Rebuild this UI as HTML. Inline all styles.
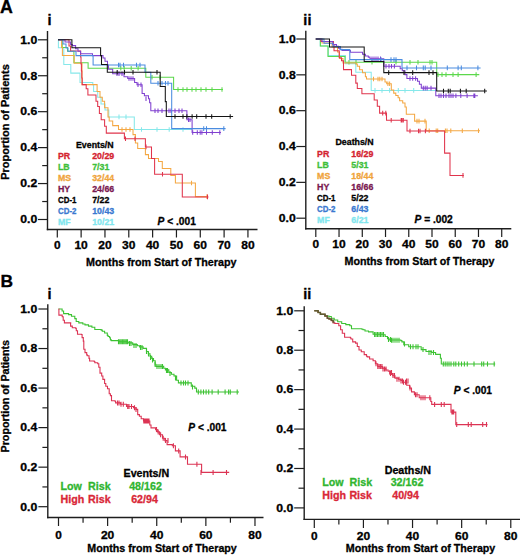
<!DOCTYPE html>
<html><head><meta charset="utf-8"><style>html,body{margin:0;padding:0;background:#fff;}svg{display:block;}</style></head><body><svg width="520" height="556" viewBox="0 0 520 556" font-family='"Liberation Sans", sans-serif'>
<rect width="520" height="556" fill="#fff"/>
<line x1="47.5" y1="31" x2="47.5" y2="230.2" stroke="#1e1e1e" stroke-width="1.4"/>
<line x1="46.8" y1="229.5" x2="257.5" y2="229.5" stroke="#1e1e1e" stroke-width="1.4"/>
<line x1="38" y1="219.5" x2="47.5" y2="219.5" stroke="#1e1e1e" stroke-width="1.2"/>
<text x="37.3" y="223.3" font-size="10.6" font-weight="bold" fill="#000" stroke="#000" stroke-width="0.3" text-anchor="end" textLength="17.0" lengthAdjust="spacingAndGlyphs">0.0</text>
<line x1="42.2" y1="201.53" x2="47.5" y2="201.53" stroke="#1e1e1e" stroke-width="1.2"/>
<line x1="38" y1="183.56" x2="47.5" y2="183.56" stroke="#1e1e1e" stroke-width="1.2"/>
<text x="37.3" y="187.36" font-size="10.6" font-weight="bold" fill="#000" stroke="#000" stroke-width="0.3" text-anchor="end" textLength="17.0" lengthAdjust="spacingAndGlyphs">0.2</text>
<line x1="42.2" y1="165.59" x2="47.5" y2="165.59" stroke="#1e1e1e" stroke-width="1.2"/>
<line x1="38" y1="147.62" x2="47.5" y2="147.62" stroke="#1e1e1e" stroke-width="1.2"/>
<text x="37.3" y="151.42" font-size="10.6" font-weight="bold" fill="#000" stroke="#000" stroke-width="0.3" text-anchor="end" textLength="17.0" lengthAdjust="spacingAndGlyphs">0.4</text>
<line x1="42.2" y1="129.65" x2="47.5" y2="129.65" stroke="#1e1e1e" stroke-width="1.2"/>
<line x1="38" y1="111.68" x2="47.5" y2="111.68" stroke="#1e1e1e" stroke-width="1.2"/>
<text x="37.3" y="115.48" font-size="10.6" font-weight="bold" fill="#000" stroke="#000" stroke-width="0.3" text-anchor="end" textLength="17.0" lengthAdjust="spacingAndGlyphs">0.6</text>
<line x1="42.2" y1="93.71" x2="47.5" y2="93.71" stroke="#1e1e1e" stroke-width="1.2"/>
<line x1="38" y1="75.74" x2="47.5" y2="75.74" stroke="#1e1e1e" stroke-width="1.2"/>
<text x="37.3" y="79.54" font-size="10.6" font-weight="bold" fill="#000" stroke="#000" stroke-width="0.3" text-anchor="end" textLength="17.0" lengthAdjust="spacingAndGlyphs">0.8</text>
<line x1="42.2" y1="57.77" x2="47.5" y2="57.77" stroke="#1e1e1e" stroke-width="1.2"/>
<line x1="38" y1="39.8" x2="47.5" y2="39.8" stroke="#1e1e1e" stroke-width="1.2"/>
<text x="37.3" y="43.6" font-size="10.6" font-weight="bold" fill="#000" stroke="#000" stroke-width="0.3" text-anchor="end" textLength="17.0" lengthAdjust="spacingAndGlyphs">1.0</text>
<line x1="57.3" y1="229.5" x2="57.3" y2="237.5" stroke="#1e1e1e" stroke-width="1.2"/>
<text x="57.3" y="248.6" font-size="10.6" font-weight="bold" fill="#000" stroke="#000" stroke-width="0.3" text-anchor="middle" textLength="6.6" lengthAdjust="spacingAndGlyphs">0</text>
<line x1="81.13" y1="229.5" x2="81.13" y2="237.5" stroke="#1e1e1e" stroke-width="1.2"/>
<text x="81.13" y="248.6" font-size="10.6" font-weight="bold" fill="#000" stroke="#000" stroke-width="0.3" text-anchor="middle" textLength="13.4" lengthAdjust="spacingAndGlyphs">10</text>
<line x1="104.96" y1="229.5" x2="104.96" y2="237.5" stroke="#1e1e1e" stroke-width="1.2"/>
<text x="104.96" y="248.6" font-size="10.6" font-weight="bold" fill="#000" stroke="#000" stroke-width="0.3" text-anchor="middle" textLength="13.4" lengthAdjust="spacingAndGlyphs">20</text>
<line x1="128.79" y1="229.5" x2="128.79" y2="237.5" stroke="#1e1e1e" stroke-width="1.2"/>
<text x="128.79" y="248.6" font-size="10.6" font-weight="bold" fill="#000" stroke="#000" stroke-width="0.3" text-anchor="middle" textLength="13.4" lengthAdjust="spacingAndGlyphs">30</text>
<line x1="152.62" y1="229.5" x2="152.62" y2="237.5" stroke="#1e1e1e" stroke-width="1.2"/>
<text x="152.62" y="248.6" font-size="10.6" font-weight="bold" fill="#000" stroke="#000" stroke-width="0.3" text-anchor="middle" textLength="13.4" lengthAdjust="spacingAndGlyphs">40</text>
<line x1="176.45" y1="229.5" x2="176.45" y2="237.5" stroke="#1e1e1e" stroke-width="1.2"/>
<text x="176.45" y="248.6" font-size="10.6" font-weight="bold" fill="#000" stroke="#000" stroke-width="0.3" text-anchor="middle" textLength="13.4" lengthAdjust="spacingAndGlyphs">50</text>
<line x1="200.28" y1="229.5" x2="200.28" y2="237.5" stroke="#1e1e1e" stroke-width="1.2"/>
<text x="200.28" y="248.6" font-size="10.6" font-weight="bold" fill="#000" stroke="#000" stroke-width="0.3" text-anchor="middle" textLength="13.4" lengthAdjust="spacingAndGlyphs">60</text>
<line x1="224.11" y1="229.5" x2="224.11" y2="237.5" stroke="#1e1e1e" stroke-width="1.2"/>
<text x="224.11" y="248.6" font-size="10.6" font-weight="bold" fill="#000" stroke="#000" stroke-width="0.3" text-anchor="middle" textLength="13.4" lengthAdjust="spacingAndGlyphs">70</text>
<line x1="247.94" y1="229.5" x2="247.94" y2="237.5" stroke="#1e1e1e" stroke-width="1.2"/>
<text x="247.94" y="248.6" font-size="10.6" font-weight="bold" fill="#000" stroke="#000" stroke-width="0.3" text-anchor="middle" textLength="13.4" lengthAdjust="spacingAndGlyphs">80</text>
<text x="86.0" y="265.9" font-size="10.7" font-weight="bold" fill="#000" stroke="#000" stroke-width="0.3" textLength="150.5" lengthAdjust="spacingAndGlyphs">Months from Start of Therapy</text>
<text x="9.4" y="122.0" font-size="10.7" font-weight="bold" fill="#000" stroke="#000" stroke-width="0.3" text-anchor="middle" textLength="115.5" lengthAdjust="spacingAndGlyphs" transform="rotate(-90 9.4 122.0)">Proportion of Patients</text>
<line x1="305.8" y1="30.7" x2="305.8" y2="229.39999999999998" stroke="#1e1e1e" stroke-width="1.4"/>
<line x1="305.1" y1="228.7" x2="511.3" y2="228.7" stroke="#1e1e1e" stroke-width="1.4"/>
<line x1="296.3" y1="218.2" x2="305.8" y2="218.2" stroke="#1e1e1e" stroke-width="1.2"/>
<text x="295.7" y="222.0" font-size="10.6" font-weight="bold" fill="#000" stroke="#000" stroke-width="0.3" text-anchor="end" textLength="17.0" lengthAdjust="spacingAndGlyphs">0.0</text>
<line x1="296.3" y1="182.36" x2="305.8" y2="182.36" stroke="#1e1e1e" stroke-width="1.2"/>
<text x="295.7" y="186.16" font-size="10.6" font-weight="bold" fill="#000" stroke="#000" stroke-width="0.3" text-anchor="end" textLength="17.0" lengthAdjust="spacingAndGlyphs">0.2</text>
<line x1="296.3" y1="146.52" x2="305.8" y2="146.52" stroke="#1e1e1e" stroke-width="1.2"/>
<text x="295.7" y="150.32" font-size="10.6" font-weight="bold" fill="#000" stroke="#000" stroke-width="0.3" text-anchor="end" textLength="17.0" lengthAdjust="spacingAndGlyphs">0.4</text>
<line x1="296.3" y1="110.68" x2="305.8" y2="110.68" stroke="#1e1e1e" stroke-width="1.2"/>
<text x="295.7" y="114.48" font-size="10.6" font-weight="bold" fill="#000" stroke="#000" stroke-width="0.3" text-anchor="end" textLength="17.0" lengthAdjust="spacingAndGlyphs">0.6</text>
<line x1="296.3" y1="74.84" x2="305.8" y2="74.84" stroke="#1e1e1e" stroke-width="1.2"/>
<text x="295.7" y="78.64" font-size="10.6" font-weight="bold" fill="#000" stroke="#000" stroke-width="0.3" text-anchor="end" textLength="17.0" lengthAdjust="spacingAndGlyphs">0.8</text>
<line x1="296.3" y1="39.0" x2="305.8" y2="39.0" stroke="#1e1e1e" stroke-width="1.2"/>
<text x="295.7" y="42.8" font-size="10.6" font-weight="bold" fill="#000" stroke="#000" stroke-width="0.3" text-anchor="end" textLength="17.0" lengthAdjust="spacingAndGlyphs">1.0</text>
<line x1="315.8" y1="228.7" x2="315.8" y2="237.0" stroke="#1e1e1e" stroke-width="1.2"/>
<text x="315.8" y="247.8" font-size="10.6" font-weight="bold" fill="#000" stroke="#000" stroke-width="0.3" text-anchor="middle" textLength="6.6" lengthAdjust="spacingAndGlyphs">0</text>
<line x1="339.04" y1="228.7" x2="339.04" y2="237.0" stroke="#1e1e1e" stroke-width="1.2"/>
<text x="339.04" y="247.8" font-size="10.6" font-weight="bold" fill="#000" stroke="#000" stroke-width="0.3" text-anchor="middle" textLength="13.4" lengthAdjust="spacingAndGlyphs">10</text>
<line x1="362.28" y1="228.7" x2="362.28" y2="237.0" stroke="#1e1e1e" stroke-width="1.2"/>
<text x="362.28" y="247.8" font-size="10.6" font-weight="bold" fill="#000" stroke="#000" stroke-width="0.3" text-anchor="middle" textLength="13.4" lengthAdjust="spacingAndGlyphs">20</text>
<line x1="385.52" y1="228.7" x2="385.52" y2="237.0" stroke="#1e1e1e" stroke-width="1.2"/>
<text x="385.52" y="247.8" font-size="10.6" font-weight="bold" fill="#000" stroke="#000" stroke-width="0.3" text-anchor="middle" textLength="13.4" lengthAdjust="spacingAndGlyphs">30</text>
<line x1="408.76" y1="228.7" x2="408.76" y2="237.0" stroke="#1e1e1e" stroke-width="1.2"/>
<text x="408.76" y="247.8" font-size="10.6" font-weight="bold" fill="#000" stroke="#000" stroke-width="0.3" text-anchor="middle" textLength="13.4" lengthAdjust="spacingAndGlyphs">40</text>
<line x1="432.0" y1="228.7" x2="432.0" y2="237.0" stroke="#1e1e1e" stroke-width="1.2"/>
<text x="432.0" y="247.8" font-size="10.6" font-weight="bold" fill="#000" stroke="#000" stroke-width="0.3" text-anchor="middle" textLength="13.4" lengthAdjust="spacingAndGlyphs">50</text>
<line x1="455.24" y1="228.7" x2="455.24" y2="237.0" stroke="#1e1e1e" stroke-width="1.2"/>
<text x="455.24" y="247.8" font-size="10.6" font-weight="bold" fill="#000" stroke="#000" stroke-width="0.3" text-anchor="middle" textLength="13.4" lengthAdjust="spacingAndGlyphs">60</text>
<line x1="478.48" y1="228.7" x2="478.48" y2="237.0" stroke="#1e1e1e" stroke-width="1.2"/>
<text x="478.48" y="247.8" font-size="10.6" font-weight="bold" fill="#000" stroke="#000" stroke-width="0.3" text-anchor="middle" textLength="13.4" lengthAdjust="spacingAndGlyphs">70</text>
<line x1="501.72" y1="228.7" x2="501.72" y2="237.0" stroke="#1e1e1e" stroke-width="1.2"/>
<text x="501.72" y="247.8" font-size="10.6" font-weight="bold" fill="#000" stroke="#000" stroke-width="0.3" text-anchor="middle" textLength="13.4" lengthAdjust="spacingAndGlyphs">80</text>
<text x="344.5" y="265.3" font-size="10.7" font-weight="bold" fill="#000" stroke="#000" stroke-width="0.3" textLength="150.0" lengthAdjust="spacingAndGlyphs">Months from Start of Therapy</text>
<line x1="47.8" y1="304.3" x2="47.8" y2="518.2" stroke="#1e1e1e" stroke-width="1.4"/>
<line x1="47.099999999999994" y1="517.5" x2="263.5" y2="517.5" stroke="#1e1e1e" stroke-width="1.4"/>
<line x1="38.4" y1="506.7" x2="47.8" y2="506.7" stroke="#1e1e1e" stroke-width="1.2"/>
<text x="37.2" y="510.5" font-size="10.6" font-weight="bold" fill="#000" stroke="#000" stroke-width="0.3" text-anchor="end" textLength="17.0" lengthAdjust="spacingAndGlyphs">0.0</text>
<line x1="42.4" y1="486.93" x2="47.8" y2="486.93" stroke="#1e1e1e" stroke-width="1.2"/>
<line x1="38.4" y1="467.16" x2="47.8" y2="467.16" stroke="#1e1e1e" stroke-width="1.2"/>
<text x="37.2" y="470.96" font-size="10.6" font-weight="bold" fill="#000" stroke="#000" stroke-width="0.3" text-anchor="end" textLength="17.0" lengthAdjust="spacingAndGlyphs">0.2</text>
<line x1="42.4" y1="447.39" x2="47.8" y2="447.39" stroke="#1e1e1e" stroke-width="1.2"/>
<line x1="38.4" y1="427.62" x2="47.8" y2="427.62" stroke="#1e1e1e" stroke-width="1.2"/>
<text x="37.2" y="431.42" font-size="10.6" font-weight="bold" fill="#000" stroke="#000" stroke-width="0.3" text-anchor="end" textLength="17.0" lengthAdjust="spacingAndGlyphs">0.4</text>
<line x1="42.4" y1="407.85" x2="47.8" y2="407.85" stroke="#1e1e1e" stroke-width="1.2"/>
<line x1="38.4" y1="388.08" x2="47.8" y2="388.08" stroke="#1e1e1e" stroke-width="1.2"/>
<text x="37.2" y="391.88" font-size="10.6" font-weight="bold" fill="#000" stroke="#000" stroke-width="0.3" text-anchor="end" textLength="17.0" lengthAdjust="spacingAndGlyphs">0.6</text>
<line x1="42.4" y1="368.31" x2="47.8" y2="368.31" stroke="#1e1e1e" stroke-width="1.2"/>
<line x1="38.4" y1="348.54" x2="47.8" y2="348.54" stroke="#1e1e1e" stroke-width="1.2"/>
<text x="37.2" y="352.34" font-size="10.6" font-weight="bold" fill="#000" stroke="#000" stroke-width="0.3" text-anchor="end" textLength="17.0" lengthAdjust="spacingAndGlyphs">0.8</text>
<line x1="42.4" y1="328.77" x2="47.8" y2="328.77" stroke="#1e1e1e" stroke-width="1.2"/>
<line x1="38.4" y1="309.0" x2="47.8" y2="309.0" stroke="#1e1e1e" stroke-width="1.2"/>
<text x="37.2" y="312.8" font-size="10.6" font-weight="bold" fill="#000" stroke="#000" stroke-width="0.3" text-anchor="end" textLength="17.0" lengthAdjust="spacingAndGlyphs">1.0</text>
<line x1="58.5" y1="517.5" x2="58.5" y2="526.0" stroke="#1e1e1e" stroke-width="1.2"/>
<text x="58.5" y="538.6" font-size="10.6" font-weight="bold" fill="#000" stroke="#000" stroke-width="0.3" text-anchor="middle" textLength="6.6" lengthAdjust="spacingAndGlyphs">0</text>
<line x1="83.06" y1="517.5" x2="83.06" y2="522.7" stroke="#1e1e1e" stroke-width="1.2"/>
<line x1="107.62" y1="517.5" x2="107.62" y2="526.0" stroke="#1e1e1e" stroke-width="1.2"/>
<text x="107.62" y="538.6" font-size="10.6" font-weight="bold" fill="#000" stroke="#000" stroke-width="0.3" text-anchor="middle" textLength="13.4" lengthAdjust="spacingAndGlyphs">20</text>
<line x1="132.18" y1="517.5" x2="132.18" y2="522.7" stroke="#1e1e1e" stroke-width="1.2"/>
<line x1="156.74" y1="517.5" x2="156.74" y2="526.0" stroke="#1e1e1e" stroke-width="1.2"/>
<text x="156.74" y="538.6" font-size="10.6" font-weight="bold" fill="#000" stroke="#000" stroke-width="0.3" text-anchor="middle" textLength="13.4" lengthAdjust="spacingAndGlyphs">40</text>
<line x1="181.3" y1="517.5" x2="181.3" y2="522.7" stroke="#1e1e1e" stroke-width="1.2"/>
<line x1="205.86" y1="517.5" x2="205.86" y2="526.0" stroke="#1e1e1e" stroke-width="1.2"/>
<text x="205.86" y="538.6" font-size="10.6" font-weight="bold" fill="#000" stroke="#000" stroke-width="0.3" text-anchor="middle" textLength="13.4" lengthAdjust="spacingAndGlyphs">60</text>
<line x1="230.42" y1="517.5" x2="230.42" y2="522.7" stroke="#1e1e1e" stroke-width="1.2"/>
<line x1="254.98" y1="517.5" x2="254.98" y2="526.0" stroke="#1e1e1e" stroke-width="1.2"/>
<text x="254.98" y="538.6" font-size="10.6" font-weight="bold" fill="#000" stroke="#000" stroke-width="0.3" text-anchor="middle" textLength="13.4" lengthAdjust="spacingAndGlyphs">80</text>
<text x="87.3" y="552.3" font-size="10.7" font-weight="bold" fill="#000" stroke="#000" stroke-width="0.3" textLength="149.5" lengthAdjust="spacingAndGlyphs">Months from Start of Therapy</text>
<text x="9.4" y="396.2" font-size="10.7" font-weight="bold" fill="#000" stroke="#000" stroke-width="0.3" text-anchor="middle" textLength="112.5" lengthAdjust="spacingAndGlyphs" transform="rotate(-90 9.4 396.2)">Proportion of Patients</text>
<line x1="304.2" y1="306.2" x2="304.2" y2="520.1" stroke="#1e1e1e" stroke-width="1.4"/>
<line x1="303.5" y1="519.4" x2="520" y2="519.4" stroke="#1e1e1e" stroke-width="1.4"/>
<line x1="294.2" y1="507.9" x2="304.2" y2="507.9" stroke="#1e1e1e" stroke-width="1.2"/>
<text x="293.3" y="511.7" font-size="10.6" font-weight="bold" fill="#000" stroke="#000" stroke-width="0.3" text-anchor="end" textLength="17.0" lengthAdjust="spacingAndGlyphs">0.0</text>
<line x1="298.5" y1="488.19" x2="304.2" y2="488.19" stroke="#1e1e1e" stroke-width="1.2"/>
<line x1="294.2" y1="468.48" x2="304.2" y2="468.48" stroke="#1e1e1e" stroke-width="1.2"/>
<text x="293.3" y="472.28" font-size="10.6" font-weight="bold" fill="#000" stroke="#000" stroke-width="0.3" text-anchor="end" textLength="17.0" lengthAdjust="spacingAndGlyphs">0.2</text>
<line x1="298.5" y1="448.77" x2="304.2" y2="448.77" stroke="#1e1e1e" stroke-width="1.2"/>
<line x1="294.2" y1="429.06" x2="304.2" y2="429.06" stroke="#1e1e1e" stroke-width="1.2"/>
<text x="293.3" y="432.86" font-size="10.6" font-weight="bold" fill="#000" stroke="#000" stroke-width="0.3" text-anchor="end" textLength="17.0" lengthAdjust="spacingAndGlyphs">0.4</text>
<line x1="298.5" y1="409.35" x2="304.2" y2="409.35" stroke="#1e1e1e" stroke-width="1.2"/>
<line x1="294.2" y1="389.64" x2="304.2" y2="389.64" stroke="#1e1e1e" stroke-width="1.2"/>
<text x="293.3" y="393.44" font-size="10.6" font-weight="bold" fill="#000" stroke="#000" stroke-width="0.3" text-anchor="end" textLength="17.0" lengthAdjust="spacingAndGlyphs">0.6</text>
<line x1="298.5" y1="369.93" x2="304.2" y2="369.93" stroke="#1e1e1e" stroke-width="1.2"/>
<line x1="294.2" y1="350.22" x2="304.2" y2="350.22" stroke="#1e1e1e" stroke-width="1.2"/>
<text x="293.3" y="354.02" font-size="10.6" font-weight="bold" fill="#000" stroke="#000" stroke-width="0.3" text-anchor="end" textLength="17.0" lengthAdjust="spacingAndGlyphs">0.8</text>
<line x1="298.5" y1="330.51" x2="304.2" y2="330.51" stroke="#1e1e1e" stroke-width="1.2"/>
<line x1="294.2" y1="310.8" x2="304.2" y2="310.8" stroke="#1e1e1e" stroke-width="1.2"/>
<text x="293.3" y="314.6" font-size="10.6" font-weight="bold" fill="#000" stroke="#000" stroke-width="0.3" text-anchor="end" textLength="17.0" lengthAdjust="spacingAndGlyphs">1.0</text>
<line x1="314.3" y1="519.4" x2="314.3" y2="528.0" stroke="#1e1e1e" stroke-width="1.2"/>
<text x="314.3" y="540.3" font-size="10.6" font-weight="bold" fill="#000" stroke="#000" stroke-width="0.3" text-anchor="middle" textLength="6.6" lengthAdjust="spacingAndGlyphs">0</text>
<line x1="338.86" y1="519.4" x2="338.86" y2="524.5" stroke="#1e1e1e" stroke-width="1.2"/>
<line x1="363.42" y1="519.4" x2="363.42" y2="528.0" stroke="#1e1e1e" stroke-width="1.2"/>
<text x="363.42" y="540.3" font-size="10.6" font-weight="bold" fill="#000" stroke="#000" stroke-width="0.3" text-anchor="middle" textLength="13.4" lengthAdjust="spacingAndGlyphs">20</text>
<line x1="387.98" y1="519.4" x2="387.98" y2="524.5" stroke="#1e1e1e" stroke-width="1.2"/>
<line x1="412.54" y1="519.4" x2="412.54" y2="528.0" stroke="#1e1e1e" stroke-width="1.2"/>
<text x="412.54" y="540.3" font-size="10.6" font-weight="bold" fill="#000" stroke="#000" stroke-width="0.3" text-anchor="middle" textLength="13.4" lengthAdjust="spacingAndGlyphs">40</text>
<line x1="437.1" y1="519.4" x2="437.1" y2="524.5" stroke="#1e1e1e" stroke-width="1.2"/>
<line x1="461.66" y1="519.4" x2="461.66" y2="528.0" stroke="#1e1e1e" stroke-width="1.2"/>
<text x="461.66" y="540.3" font-size="10.6" font-weight="bold" fill="#000" stroke="#000" stroke-width="0.3" text-anchor="middle" textLength="13.4" lengthAdjust="spacingAndGlyphs">60</text>
<line x1="486.22" y1="519.4" x2="486.22" y2="524.5" stroke="#1e1e1e" stroke-width="1.2"/>
<line x1="510.78" y1="519.4" x2="510.78" y2="528.0" stroke="#1e1e1e" stroke-width="1.2"/>
<text x="510.78" y="540.3" font-size="10.6" font-weight="bold" fill="#000" stroke="#000" stroke-width="0.3" text-anchor="middle" textLength="13.4" lengthAdjust="spacingAndGlyphs">80</text>
<text x="345.8" y="552.3" font-size="10.7" font-weight="bold" fill="#000" stroke="#000" stroke-width="0.3" textLength="149.5" lengthAdjust="spacingAndGlyphs">Months from Start of Therapy</text>
<text x="0.0" y="12.6" font-size="17.8" font-weight="bold" fill="#000" stroke="#000" stroke-width="0.3">A</text>
<text x="0.4" y="287.3" font-size="17.4" font-weight="bold" fill="#000" stroke="#000" stroke-width="0.3">B</text>
<text x="49.5" y="24.7" font-size="14.5" font-weight="bold" fill="#000" stroke="#000" stroke-width="0.3" text-anchor="middle">i</text>
<text x="307.4" y="24.9" font-size="14.5" font-weight="bold" fill="#000" stroke="#000" stroke-width="0.3" text-anchor="middle">ii</text>
<text x="49.4" y="298.7" font-size="14.5" font-weight="bold" fill="#000" stroke="#000" stroke-width="0.3" text-anchor="middle">i</text>
<text x="307.2" y="298.5" font-size="14.5" font-weight="bold" fill="#000" stroke="#000" stroke-width="0.3" text-anchor="middle">ii</text>
<text x="76.0" y="148.0" font-size="8.8" font-weight="bold" fill="#000" stroke="#000" stroke-width="0.3">Events/N</text>
<text x="58.0" y="158.8" font-size="8.8" font-weight="bold" fill="#d4222f" stroke="#d4222f" stroke-width="0.3">PR</text>
<text x="92.2" y="158.8" font-size="8.8" font-weight="bold" fill="#d4222f" stroke="#d4222f" stroke-width="0.3">20/29</text>
<text x="58.0" y="169.78" font-size="8.8" font-weight="bold" fill="#3fbf3a" stroke="#3fbf3a" stroke-width="0.3">LB</text>
<text x="92.2" y="169.78" font-size="8.8" font-weight="bold" fill="#3fbf3a" stroke="#3fbf3a" stroke-width="0.3">7/31</text>
<text x="58.0" y="180.76000000000002" font-size="8.8" font-weight="bold" fill="#f0a43c" stroke="#f0a43c" stroke-width="0.3">MS</text>
<text x="92.2" y="180.76000000000002" font-size="8.8" font-weight="bold" fill="#f0a43c" stroke="#f0a43c" stroke-width="0.3">32/44</text>
<text x="58.0" y="191.74" font-size="8.8" font-weight="bold" fill="#7a1850" stroke="#7a1850" stroke-width="0.3">HY</text>
<text x="92.2" y="191.74" font-size="8.8" font-weight="bold" fill="#7a1850" stroke="#7a1850" stroke-width="0.3">24/66</text>
<text x="58.0" y="202.72000000000003" font-size="8.8" font-weight="bold" fill="#000" stroke="#000" stroke-width="0.3" textLength="18.4" lengthAdjust="spacingAndGlyphs">CD-1</text>
<text x="92.2" y="202.72000000000003" font-size="8.8" font-weight="bold" fill="#000" stroke="#000" stroke-width="0.3">7/22</text>
<text x="58.0" y="213.70000000000002" font-size="8.8" font-weight="bold" fill="#3a78d0" stroke="#3a78d0" stroke-width="0.3" textLength="18.4" lengthAdjust="spacingAndGlyphs">CD-2</text>
<text x="92.2" y="213.70000000000002" font-size="8.8" font-weight="bold" fill="#3a78d0" stroke="#3a78d0" stroke-width="0.3">10/43</text>
<text x="58.0" y="224.68" font-size="8.8" font-weight="bold" fill="#80e6ee" stroke="#80e6ee" stroke-width="0.3">MF</text>
<text x="92.2" y="224.68" font-size="8.8" font-weight="bold" fill="#80e6ee" stroke="#80e6ee" stroke-width="0.3">10/21</text>
<text x="335.5" y="145.3" font-size="8.8" font-weight="bold" fill="#000" stroke="#000" stroke-width="0.3">Deaths/N</text>
<text x="317.1" y="156.6" font-size="8.8" font-weight="bold" fill="#d4222f" stroke="#d4222f" stroke-width="0.3">PR</text>
<text x="351.3" y="156.6" font-size="8.8" font-weight="bold" fill="#d4222f" stroke="#d4222f" stroke-width="0.3">16/29</text>
<text x="317.1" y="167.67" font-size="8.8" font-weight="bold" fill="#3fbf3a" stroke="#3fbf3a" stroke-width="0.3">LB</text>
<text x="351.3" y="167.67" font-size="8.8" font-weight="bold" fill="#3fbf3a" stroke="#3fbf3a" stroke-width="0.3">5/31</text>
<text x="317.1" y="178.74" font-size="8.8" font-weight="bold" fill="#f0a43c" stroke="#f0a43c" stroke-width="0.3">MS</text>
<text x="351.3" y="178.74" font-size="8.8" font-weight="bold" fill="#f0a43c" stroke="#f0a43c" stroke-width="0.3">18/44</text>
<text x="317.1" y="189.81" font-size="8.8" font-weight="bold" fill="#7a1850" stroke="#7a1850" stroke-width="0.3">HY</text>
<text x="351.3" y="189.81" font-size="8.8" font-weight="bold" fill="#7a1850" stroke="#7a1850" stroke-width="0.3">16/66</text>
<text x="317.1" y="200.88" font-size="8.8" font-weight="bold" fill="#000" stroke="#000" stroke-width="0.3" textLength="18.4" lengthAdjust="spacingAndGlyphs">CD-1</text>
<text x="351.3" y="200.88" font-size="8.8" font-weight="bold" fill="#000" stroke="#000" stroke-width="0.3">5/22</text>
<text x="317.1" y="211.95" font-size="8.8" font-weight="bold" fill="#3a78d0" stroke="#3a78d0" stroke-width="0.3" textLength="18.4" lengthAdjust="spacingAndGlyphs">CD-2</text>
<text x="351.3" y="211.95" font-size="8.8" font-weight="bold" fill="#3a78d0" stroke="#3a78d0" stroke-width="0.3">6/43</text>
<text x="317.1" y="223.01999999999998" font-size="8.8" font-weight="bold" fill="#80e6ee" stroke="#80e6ee" stroke-width="0.3">MF</text>
<text x="351.3" y="223.01999999999998" font-size="8.8" font-weight="bold" fill="#80e6ee" stroke="#80e6ee" stroke-width="0.3">6/21</text>
<text x="123.5" y="477.3" font-size="10.7" font-weight="bold" fill="#000" stroke="#000" stroke-width="0.3">Events/N</text>
<text x="60.5" y="490.0" font-size="10.7" font-weight="bold" fill="#30b530" stroke="#30b530" stroke-width="0.3">Low</text>
<text x="88.0" y="490.0" font-size="10.7" font-weight="bold" fill="#30b530" stroke="#30b530" stroke-width="0.3">Risk</text>
<text x="60.5" y="502.7" font-size="10.7" font-weight="bold" fill="#d92838" stroke="#d92838" stroke-width="0.3">High</text>
<text x="88.0" y="502.7" font-size="10.7" font-weight="bold" fill="#d92838" stroke="#d92838" stroke-width="0.3">Risk</text>
<text x="145.5" y="490.0" font-size="10.7" font-weight="bold" fill="#30b530" stroke="#30b530" stroke-width="0.3" text-anchor="middle">48/162</text>
<text x="144.5" y="502.7" font-size="10.7" font-weight="bold" fill="#d92838" stroke="#d92838" stroke-width="0.3" text-anchor="middle">62/94</text>
<text x="384.7" y="473.5" font-size="10.7" font-weight="bold" fill="#000" stroke="#000" stroke-width="0.3">Deaths/N</text>
<text x="322.3" y="486.0" font-size="10.7" font-weight="bold" fill="#30b530" stroke="#30b530" stroke-width="0.3">Low</text>
<text x="349.6" y="486.0" font-size="10.7" font-weight="bold" fill="#30b530" stroke="#30b530" stroke-width="0.3">Risk</text>
<text x="322.3" y="498.6" font-size="10.7" font-weight="bold" fill="#d92838" stroke="#d92838" stroke-width="0.3">High</text>
<text x="349.4" y="498.6" font-size="10.7" font-weight="bold" fill="#d92838" stroke="#d92838" stroke-width="0.3">Risk</text>
<text x="407.0" y="486.2" font-size="10.7" font-weight="bold" fill="#30b530" stroke="#30b530" stroke-width="0.3" text-anchor="middle">32/162</text>
<text x="405.6" y="498.8" font-size="10.7" font-weight="bold" fill="#d92838" stroke="#d92838" stroke-width="0.3" text-anchor="middle">40/94</text>
<text x="157.6" y="225.2" font-size="10.2" font-weight="bold" stroke="#000" stroke-width="0.3"><tspan font-style="italic">P</tspan> &lt; .001</text>
<text x="414.5" y="222.8" font-size="10.2" font-weight="bold" stroke="#000" stroke-width="0.3"><tspan font-style="italic">P</tspan> = .002</text>
<text x="188.3" y="430.9" font-size="10.2" font-weight="bold" stroke="#000" stroke-width="0.3"><tspan font-style="italic">P</tspan> &lt; .001</text>
<text x="453.8" y="393.6" font-size="10.2" font-weight="bold" stroke="#000" stroke-width="0.3"><tspan font-style="italic">P</tspan> &lt; .001</text>
<path d="M58.0 39.8H58.4V47.8H63.6V47.8H63.8V64.4H70.6V64.4H70.8V73.1H80.0V82.5H92.8V84.6H93.6V91.5H97.7V97.3H101.0V104.0H105.0V110.0H108.8V116.9H134.3V129.5H192.0" fill="none" stroke="#86e8ea" stroke-width="1.05" stroke-linejoin="miter" stroke-linecap="butt"/><path d="M119.0 114.60000000000001V119.2M126.0 114.60000000000001V119.2M141.5 127.2V131.8M157.0 127.2V131.8M169.2 127.2V131.8M183.0 127.2V131.8" fill="none" stroke="#86e8ea" stroke-width="1.05"/>
<path d="M58.0 39.8H62.2V47.5H67.5V51.3H73.9V62.7H88.1V68.3H145.8V77.3H173.6V89.5H223.0" fill="none" stroke="#5cd84c" stroke-width="1.05" stroke-linejoin="miter" stroke-linecap="butt"/><path d="M120.8 66.0V70.6M124.2 66.0V70.6M131.2 66.0V70.6M138.1 66.0V70.6M152.0 75.0V79.6M160.0 75.0V79.6M178.0 87.2V91.8M183.0 87.2V91.8M187.0 87.2V91.8M192.0 87.2V91.8M196.0 87.2V91.8M201.0 87.2V91.8M206.0 87.2V91.8M212.0 87.2V91.8M222.0 87.2V91.8" fill="none" stroke="#5cd84c" stroke-width="1.05"/>
<path d="M58.0 39.8H61.6V47.5H62.4V55.5H74.2V63.2H82.0V84.6H97.1V91.5H100.0V97.3H102.3V101.3H104.6V107.7H108.0V116.9H109.2V121.0H112.7V125.6H118.5V129.5H133.0V134.6H135.4V143.0H137.7V148.5H145.4V154.6H148.5V158.5H158.5V161.5H162.3V168.5H170.8V175.4H175.4V183.0H195.4V196.6H207.7" fill="none" stroke="#f4a844" stroke-width="1.05" stroke-linejoin="miter" stroke-linecap="butt"/><path d="M122.0 127.2V131.8M126.0 127.2V131.8M130.0 127.2V131.8M191.5 180.7V185.3M207.0 194.29999999999998V198.9" fill="none" stroke="#f4a844" stroke-width="1.05"/>
<path d="M58.0 39.8H69.0V46.0H70.6V51.0H80.6V57.0H81.0V64.0H81.4V71.0H81.8V78.0H82.2V84.6H86.2V88.7H87.9V95.0H96.0V101.3H97.7V106.5H99.4V113.5H101.2V119.8H104.6V126.2H106.3V133.1H124.4V138.8H145.4V146.9H151.5V158.5H154.6V174.2H182.3V196.9H208.5" fill="none" stroke="#e0344c" stroke-width="1.05" stroke-linejoin="miter" stroke-linecap="butt"/><path d="M125.5 136.5V141.10000000000002M135.0 136.5V141.10000000000002M146.0 144.6V149.20000000000002M162.5 171.89999999999998V176.5M207.5 194.6V199.20000000000002" fill="none" stroke="#e0344c" stroke-width="1.05"/>
<path d="M58.0 39.8H65.0V41.9H70.6V44.4H72.5V45.6H75.6V48.75H78.0V51.25H80.6V53.75H92.5V55.6H103.0V58.0H105.0V61.25H107.5V65.0H108.5V69.2H112.7V73.8H124.0V76.7H127.7V78.5H134.6V82.5H137.0V84.8H142.1V93.5H144.4V95.8H148.5V98.7H149.6V102.7H150.8V110.8H186.9V119.8H192.1V132.5H221.0" fill="none" stroke="#8040d0" stroke-width="1.05" stroke-linejoin="miter" stroke-linecap="butt"/><path d="M117.0 71.5V76.1M119.0 71.5V76.1M122.0 71.5V76.1M129.0 76.2V80.8M131.0 76.2V80.8M133.0 76.2V80.8M138.0 82.5V87.1M141.0 82.5V87.1M146.0 96.4V101.0M155.0 108.5V113.1M158.0 108.5V113.1M162.0 108.5V113.1M169.0 108.5V113.1M171.0 108.5V113.1M175.0 108.5V113.1M179.0 108.5V113.1M182.0 108.5V113.1M188.5 117.5V122.1M190.0 117.5V122.1M192.7 130.2V134.8M197.3 130.2V134.8M200.2 130.2V134.8M201.9 130.2V134.8M206.5 130.2V134.8M212.3 130.2V134.8M219.8 130.2V134.8" fill="none" stroke="#8040d0" stroke-width="1.05"/>
<path d="M58.0 39.8H63.0V44.0H66.0V48.0H68.0V51.3H76.0V55.6H93.1V65.0H145.0V72.3H150.8V83.3H171.7V128.6H225.6" fill="none" stroke="#4a8ce0" stroke-width="1.05" stroke-linejoin="miter" stroke-linecap="butt"/><path d="M118.5 62.7V67.3M120.0 62.7V67.3M123.5 62.7V67.3M136.5 62.7V67.3M140.0 62.7V67.3M158.0 81.0V85.6M162.0 81.0V85.6M165.5 81.0V85.6M168.0 81.0V85.6M203.7 126.3V130.9M206.5 126.3V130.9M223.8 126.3V130.9" fill="none" stroke="#4a8ce0" stroke-width="1.05"/>
<path d="M58.0 39.8H71.9V47.8H100.6V55.6H101.5V64.4H107.3V72.3H160.2V86.5H165.3V101.6H166.3V116.5H233.1" fill="none" stroke="#141414" stroke-width="1.05" stroke-linejoin="miter" stroke-linecap="butt"/><path d="M117.2 70.0V74.6M124.5 70.0V74.6M133.0 70.0V74.6M157.0 70.0V74.6M175.0 114.2V118.8M183.0 114.2V118.8M186.9 114.2V118.8M192.1 114.2V118.8M196.7 114.2V118.8M206.0 114.2V118.8M211.7 114.2V118.8M230.2 114.2V118.8" fill="none" stroke="#141414" stroke-width="1.05"/>
<path d="M315.8 39.0H320.2V46.0H328.2V55.6H345.4V63.6H355.8V72.3H371.2V90.4H437.0" fill="none" stroke="#86e8ea" stroke-width="1.05" stroke-linejoin="miter" stroke-linecap="butt"/><path d="M382.0 88.10000000000001V92.7M389.6 88.10000000000001V92.7M375.0 88.10000000000001V92.7M398.3 88.10000000000001V92.7M405.0 88.10000000000001V92.7M413.7 88.10000000000001V92.7" fill="none" stroke="#86e8ea" stroke-width="1.05"/>
<path d="M315.8 39.0H320.4V46.0H328.0V56.4H345.0V62.2H436.7V74.6H479.3" fill="none" stroke="#5cd84c" stroke-width="1.05" stroke-linejoin="miter" stroke-linecap="butt"/><path d="M349.0 59.900000000000006V64.5M356.0 59.900000000000006V64.5M372.0 59.900000000000006V64.5M396.0 59.900000000000006V64.5M410.0 59.900000000000006V64.5M418.0 59.900000000000006V64.5M430.0 59.900000000000006V64.5M432.0 59.900000000000006V64.5M438.0 72.3V76.89999999999999M442.0 72.3V76.89999999999999M446.0 72.3V76.89999999999999M453.0 72.3V76.89999999999999M458.1 72.3V76.89999999999999M476.1 72.3V76.89999999999999" fill="none" stroke="#5cd84c" stroke-width="1.05"/>
<path d="M315.8 39.0H322.0V43.0H332.0V47.0H337.5V52.0H339.5V58.5H343.0V63.0H356.2V64.0H357.3V66.3H359.6V69.8H362.5V72.7H365.4V76.7H366.5V79.0H385.0V81.9H386.7V83.7H391.3V90.0H393.7V93.1H395.8V95.4H398.1V97.7H399.6V100.8H402.7V103.0H405.0V107.0H406.3V114.3H414.6V121.1H426.2V130.8H480.0" fill="none" stroke="#f4a844" stroke-width="1.05" stroke-linejoin="miter" stroke-linecap="butt"/><path d="M373.5 76.7V81.3M378.0 76.7V81.3M379.8 76.7V81.3M382.0 76.7V81.3M387.9 81.4V86.0M389.6 81.4V86.0M417.0 118.8V123.39999999999999M419.0 118.8V123.39999999999999M425.0 118.8V123.39999999999999M429.2 128.5V133.10000000000002M436.2 128.5V133.10000000000002M437.7 128.5V133.10000000000002M445.4 128.5V133.10000000000002M447.0 128.5V133.10000000000002M450.8 128.5V133.10000000000002M462.3 128.5V133.10000000000002M478.5 128.5V133.10000000000002" fill="none" stroke="#f4a844" stroke-width="1.05"/>
<path d="M315.8 39.0H321.0V41.5H333.5V44.6H334.0V50.8H339.2V57.7H341.5V60.8H343.5V69.6H351.5V75.2H355.8V83.1H357.3V88.5H361.9V93.8H374.2V100.0H377.3V106.2H379.6V113.1H386.5V120.3H407.0V131.0H444.6V153.1H450.0V175.4H463.8" fill="none" stroke="#e0344c" stroke-width="1.05" stroke-linejoin="miter" stroke-linecap="butt"/><path d="M382.7 110.8V115.39999999999999M385.8 110.8V115.39999999999999M391.2 118.0V122.6M401.2 118.0V122.6M402.0 118.0V122.6M403.3 118.0V122.6M410.0 128.7V133.3M418.5 128.7V133.3M420.0 128.7V133.3M425.4 128.7V133.3M463.0 173.1V177.70000000000002" fill="none" stroke="#e0344c" stroke-width="1.05"/>
<path d="M315.8 39.0H322.0V41.5H332.7V44.6H336.5V46.2H338.5V48.1H340.0V49.2H342.0V50.5H350.4V52.3H362.5V54.2H365.4V56.0H368.3V57.1H370.0V58.7H383.8V66.2H400.2V68.8H402.3V70.8H405.0V74.6H406.9V78.5H417.5V81.3H419.4V84.2H421.3V88.1H435.8V95.8H477.9" fill="none" stroke="#8040d0" stroke-width="1.05" stroke-linejoin="miter" stroke-linecap="butt"/><path d="M372.0 56.400000000000006V61.0M374.0 56.400000000000006V61.0M376.0 56.400000000000006V61.0M378.0 56.400000000000006V61.0M380.5 56.400000000000006V61.0M386.0 63.900000000000006V68.5M389.0 63.900000000000006V68.5M391.5 63.900000000000006V68.5M394.4 63.900000000000006V68.5M410.0 76.2V80.8M412.7 76.2V80.8M415.6 76.2V80.8M423.3 85.8V90.39999999999999M425.2 85.8V90.39999999999999M427.1 85.8V90.39999999999999M431.0 85.8V90.39999999999999M439.0 93.5V98.1M441.0 93.5V98.1M443.5 93.5V98.1M446.0 93.5V98.1M449.0 93.5V98.1M451.0 93.5V98.1M453.0 93.5V98.1M455.9 93.5V98.1M460.8 93.5V98.1M467.1 93.5V98.1M473.9 93.5V98.1M474.8 93.5V98.1" fill="none" stroke="#8040d0" stroke-width="1.05"/>
<path d="M315.8 39.0H324.0V43.2H333.0V46.5H340.4V49.6H349.8V59.6H402.0V67.9H480.6" fill="none" stroke="#4a8ce0" stroke-width="1.05" stroke-linejoin="miter" stroke-linecap="butt"/><path d="M381.0 57.300000000000004V61.9M391.0 57.300000000000004V61.9M394.0 57.300000000000004V61.9M396.0 57.300000000000004V61.9M407.0 65.60000000000001V70.2M416.5 65.60000000000001V70.2M423.3 65.60000000000001V70.2M425.2 65.60000000000001V70.2M431.0 65.60000000000001V70.2M447.3 65.60000000000001V70.2M458.1 65.60000000000001V70.2M461.3 65.60000000000001V70.2M477.9 65.60000000000001V70.2" fill="none" stroke="#4a8ce0" stroke-width="1.05"/>
<path d="M315.8 39.0H329.5V46.9H364.2V61.5H383.8V72.6H436.7V91.0H486.9" fill="none" stroke="#141414" stroke-width="1.05" stroke-linejoin="miter" stroke-linecap="butt"/><path d="M388.7 70.3V74.89999999999999M404.0 70.3V74.89999999999999M412.7 70.3V74.89999999999999M429.0 70.3V74.89999999999999M433.0 70.3V74.89999999999999M443.5 88.7V93.3M448.3 88.7V93.3M450.2 88.7V93.3M460.4 88.7V93.3M466.2 88.7V93.3M484.7 88.7V93.3" fill="none" stroke="#141414" stroke-width="1.05"/>
<path d="M58.5 309.0H62.1V311.0H63.6V313.6H68.6V314.6H71.5V316.2H74.8V318.6H76.2V321.5H78.8V322.9H82.8V324.0H85.0V324.9H88.5V326.1H91.9V327.2H94.8V329.5H101.2V330.1H102.3V331.3H104.6V333.0H107.3V335.4H108.1V336.5H109.6V337.7H110.4V339.9H111.3V340.6H118.8V341.7H128.0V342.9H132.7V344.6H137.3V345.8H139.6V346.9H143.1V348.4H146.5V351.5H148.3V353.8H150.0V356.2H151.7V358.5H153.5V360.8H155.2V364.2H155.8V366.4H163.7V368.2H165.4V369.9H168.8V372.5H171.4V374.2H174.0V376.0H176.6V380.3H178.4V382.9H191.3V386.3H194.8V388.1H196.5V392.0H239.0" fill="none" stroke="#3cc232" stroke-width="1.1" stroke-linejoin="miter" stroke-linecap="butt"/><path d="M118.5 339.2V344.2M119.8 339.2V344.2M121.1 339.2V344.2M122.4 339.2V344.2M123.7 339.2V344.2M125.0 339.2V344.2M126.3 339.2V344.2M127.5 339.2V344.2M129.5 341.0V346.0M131.0 341.0V346.0M134.0 343.0V348.0M136.0 343.0V348.0M140.5 345.0V350.0M142.0 345.0V350.0M146.5 349.0V354.0M148.5 351.5V356.5M150.5 355.0V360.0M152.5 357.5V362.5M155.0 361.7V366.7M157.0 363.9V368.9M159.0 363.9V368.9M161.0 363.9V368.9M162.5 363.9V368.9M166.5 368.0V373.0M167.5 368.0V373.0M170.0 371.0V376.0M175.5 375.5V380.5M181.0 380.4V385.4M183.5 380.4V385.4M185.5 380.4V385.4M188.0 380.4V385.4M192.5 384.5V389.5M198.3 389.5V394.5M200.9 389.5V394.5M203.5 389.5V394.5M206.1 389.5V394.5M208.7 389.5V394.5M212.1 389.5V394.5M218.2 389.5V394.5M225.1 389.5V394.5M228.6 389.5V394.5M230.3 389.5V394.5M237.2 389.5V394.5" fill="none" stroke="#3cc232" stroke-width="1.1"/>
<path d="M58.5 309.0H58.9V315.1H62.2V316.8H63.2V320.3H64.4V322.9H70.7V323.2H70.6V326.1H72.3V327.8H75.8V328.5H76.3V330.7H77.5V334.2H81.5V334.5H82.1V337.6H83.3V341.1H83.8V349.2H85.0V352.6H86.7V354.9H87.3V355.8H89.0V358.4H89.6V361.0H94.2V361.5H94.8V362.7H97.7V363.8H98.8V367.3H100.0V373.1H101.7V376.0H102.9V379.4H104.6V383.5H105.8V386.3H107.5V388.7H109.2V393.8H110.4V395.6H111.5V400.8H115.0V401.3H115.6V402.9H120.5V404.2H126.5V406.5H133.5V407.7H136.0V409.4H137.7V414.6H139.4V416.3H141.2V418.7H143.5V421.0H149.8V425.0H151.0V427.9H155.6V429.6H157.3V431.9H159.6V434.8H162.5V438.3H164.8V440.6H167.1V444.6H172.3V445.8H175.4V450.9H180.1V456.9H187.5V464.3H201.6V472.4H229.2" fill="none" stroke="#dc3454" stroke-width="1.1" stroke-linejoin="miter" stroke-linecap="butt"/><path d="M117.5 400.4V405.4M119.0 400.4V405.4M121.0 401.7V406.7M123.3 401.7V406.7M127.7 404.0V409.0M129.0 404.0V409.0M131.5 404.0V409.0M134.5 405.2V410.2M136.0 406.9V411.9M143.8 418.5V423.5M144.8 418.5V423.5M145.8 418.5V423.5M146.8 418.5V423.5M147.9 418.5V423.5M149.0 418.5V423.5M156.5 427.1V432.1M158.2 429.4V434.4M160.6 432.3V437.3M163.2 435.8V440.8M165.5 438.1V443.1M168.0 438.1V443.1M173.4 443.3V448.3M178.7 448.4V453.4M185.5 454.4V459.4M196.9 461.8V466.8M201.0 469.9V474.9M213.1 469.9V474.9M226.5 469.9V474.9" fill="none" stroke="#dc3454" stroke-width="1.1"/>
<path d="M314.3 310.8H318.1V312.5H320.4V314.2H325.0V316.0H329.0V316.5H331.3V318.3H334.2V320.0H337.7V321.7H341.7V323.5H345.8V324.6H349.8V325.8H351.5V328.7H361.9V329.2H363.1V329.8H365.0V331.0H368.5V331.9H373.1V334.2H383.5V334.8H385.2V336.5H387.5V338.8H389.2V340.0H400.8V340.6H401.9V341.9H403.8V344.8H408.7V346.7H421.2V349.6H426.0V351.5H431.7V352.5H435.6V354.4H440.4V358.3H441.3V364.0H495.2" fill="none" stroke="#3cc232" stroke-width="1.1" stroke-linejoin="miter" stroke-linecap="butt"/><path d="M374.6 332.0V337.0M376.0 332.0V337.0M377.5 332.0V337.0M379.0 332.0V337.0M380.5 332.0V337.0M382.0 332.0V337.0M383.5 332.0V337.0M388.5 337.0V342.0M390.5 337.0V342.0M391.5 337.8V342.8M393.0 337.8V342.8M395.0 337.8V342.8M397.0 337.8V342.8M399.0 337.8V342.8M404.5 341.5V346.5M410.5 344.2V349.2M413.0 344.2V349.2M416.0 344.2V349.2M418.0 344.2V349.2M423.0 347.1V352.1M429.0 350.0V355.0M431.0 350.0V355.0M433.5 350.0V355.0M443.3 361.5V366.5M445.2 361.5V366.5M447.1 361.5V366.5M449.0 361.5V366.5M451.0 361.5V366.5M453.8 361.5V366.5M455.8 361.5V366.5M458.7 361.5V366.5M461.5 361.5V366.5M464.4 361.5V366.5M467.3 361.5V366.5M474.0 361.5V366.5M481.7 361.5V366.5M483.7 361.5V366.5M487.5 361.5V366.5M494.2 361.5V366.5" fill="none" stroke="#3cc232" stroke-width="1.1"/>
<path d="M314.3 310.8H318.1V312.5H320.4V314.2H325.0V316.0H327.3V318.3H329.0V319.0H331.3V320.6H333.1V322.9H334.8V323.5H338.8V325.8H340.6V329.8H342.3V333.3H344.6V337.3H350.4V338.0H351.0V339.0H352.7V341.9H355.6V343.1H357.3V346.5H359.0V350.0H361.3V351.7H364.2V354.6H366.5V356.3H367.3V356.9H369.6V359.0H373.1V360.8H375.4V363.7H377.7V366.5H382.3V368.3H385.8V370.0H388.1V371.2H389.8V373.5H392.7V375.8H395.0V378.1H398.5V379.2H400.8V380.4H402.9V382.3H406.7V385.2H409.6V388.1H411.5V391.9H414.4V394.8H419.2V397.7H430.8V401.5H431.7V404.4H451.0V412.1H455.8V424.6H487.5" fill="none" stroke="#dc3454" stroke-width="1.1" stroke-linejoin="miter" stroke-linecap="butt"/><path d="M376.0 361.2V366.2M377.8 364.0V369.0M379.2 364.0V369.0M380.6 364.0V369.0M382.0 364.0V369.0M383.0 366.5V371.5M384.5 366.5V371.5M386.0 366.5V371.5M390.0 370.0V375.0M391.5 370.0V375.0M393.0 373.0V378.0M394.5 373.0V378.0M401.0 378.5V383.5M402.5 378.5V383.5M406.5 378.5V383.5M408.0 378.5V383.5M390.5 371.0V376.0M397.0 376.7V381.7M399.0 376.7V381.7M403.5 379.8V384.8M405.5 379.8V384.8M410.0 385.6V390.6M415.5 392.3V397.3M417.0 392.3V397.3M421.0 395.2V400.2M423.0 395.2V400.2M425.0 395.2V400.2M429.8 395.2V400.2M434.6 401.9V406.9M441.3 401.9V406.9M444.2 401.9V406.9M451.9 409.6V414.6M452.8 409.6V414.6M453.7 409.6V414.6M456.7 422.1V427.1M468.3 422.1V427.1M471.2 422.1V427.1M482.7 422.1V427.1M486.5 422.1V427.1" fill="none" stroke="#dc3454" stroke-width="1.1"/>
<path d="M314.3 310.8H318.1V312.5H320.4V314.2H325.0V316.0H327.3V318.3H329.0V319.0H331.3V320.3H333.1V322.0H334.5" fill="none" stroke="#5e5a30" stroke-width="1.5" stroke-linejoin="miter" stroke-linecap="butt"/>
</svg></body></html>
